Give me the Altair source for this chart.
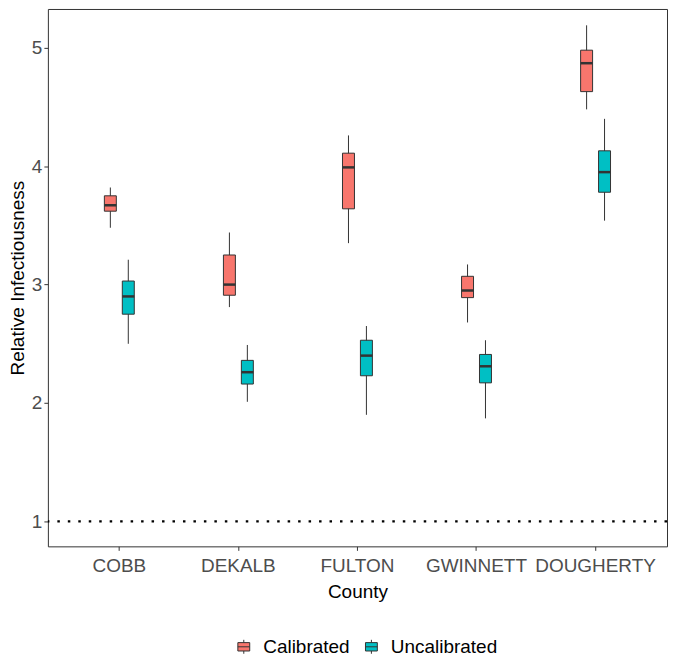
import altair as alt
import pandas as pd

counties = ["COBB", "DEKALB", "FULTON", "GWINNETT", "DOUGHERTY"]
groups = ["Calibrated", "Uncalibrated"]

cal_lower = [3.48, 2.81, 3.35, 2.68, 4.48]
cal_q1 = [3.62, 2.91, 3.64, 2.89, 4.63]
cal_median = [3.67, 3.00, 3.99, 2.95, 4.87]
cal_q3 = [3.75, 3.25, 4.11, 3.07, 4.98]
cal_upper = [3.82, 3.44, 4.26, 3.17, 5.19]

unc_lower = [2.50, 2.01, 1.90, 1.87, 3.54]
unc_q1 = [2.75, 2.16, 2.23, 2.17, 3.78]
unc_median = [2.90, 2.26, 2.40, 2.31, 3.95]
unc_q3 = [3.03, 2.36, 2.53, 2.41, 4.13]
unc_upper = [3.21, 2.49, 2.65, 2.53, 4.40]

ref_value = [1]
y_ticks = [1, 2, 3, 4, 5]

rows = []
for i, c in enumerate(counties):
    rows.append(dict(county=c, group="Calibrated", lower=cal_lower[i], q1=cal_q1[i],
                     median=cal_median[i], q3=cal_q3[i], upper=cal_upper[i]))
    rows.append(dict(county=c, group="Uncalibrated", lower=unc_lower[i], q1=unc_q1[i],
                     median=unc_median[i], q3=unc_q3[i], upper=unc_upper[i]))
df = pd.DataFrame(rows)

FONT = "Liberation Sans"
DARK = "#333333"

W = 621
step = W / 5.2
half = step / 2

x_enc = alt.X("county:N", sort=counties, title="County",
              scale=alt.Scale(paddingInner=0, paddingOuter=0.1),
              axis=alt.Axis(labelAngle=0, labelPadding=6, titlePadding=7))
xo_enc = alt.XOffset("group:N", sort=groups,
                     scale=alt.Scale(paddingInner=0, paddingOuter=0,
                                     range=[half - 18, half + 18]))
y_scale = alt.Scale(domain=[0.789, 5.328], nice=False, zero=False)

base = alt.Chart(df)

whiskers = base.mark_rule(color=DARK, strokeWidth=1).encode(
    x=x_enc, xOffset=xo_enc,
    y=alt.Y("lower:Q", scale=y_scale, title="Relative Infectiousness",
            axis=alt.Axis(values=y_ticks, format="d", titlePadding=4)),
    y2="upper:Q",
)

box_path = "M-0.85,-0.6H0.85V0.6H-0.85Z M-0.85,0H0.85 M0,-0.6V-1 M0,0.6V1"

boxes = base.mark_bar(size=12, stroke=DARK, strokeWidth=1).encode(
    x=x_enc, xOffset=xo_enc,
    y=alt.Y("q1:Q", scale=y_scale),
    y2="q3:Q",
    color=alt.Color("group:N", sort=groups,
                    scale=alt.Scale(domain=groups, range=["#F8766D", "#00BFC4"]),
                    legend=alt.Legend(title=None, orient="none", direction="horizontal",
                                      legendX=187, legendY=630,
                                      symbolType=box_path, symbolSize=196,
                                      symbolStrokeColor=DARK, symbolStrokeWidth=1,
                                      labelFont=FONT, labelFontSize=19, labelColor="black",
                                      labelOffset=10, columnPadding=12, padding=0)),
)

medians = base.mark_tick(size=12, thickness=2.5, color=DARK, opacity=1).encode(
    x=x_enc, xOffset=xo_enc,
    y=alt.Y("median:Q", scale=y_scale),
)

ref = alt.Chart(pd.DataFrame({"v": ref_value})).mark_rule(
    color="black", strokeWidth=2.5, strokeDash=[2.5, 8]
).encode(y=alt.Y("v:Q", scale=y_scale))

chart = alt.layer(whiskers, boxes, medians, ref).properties(
    width=W, height=539,
    padding={"left": 0, "top": 0, "right": 1, "bottom": 0},
).configure_view(
    stroke=DARK, strokeWidth=1
).configure_axis(
    grid=False, domain=False, tickColor=DARK, tickSize=4, tickWidth=1,
    labelFont=FONT, labelFontSize=19, labelColor="#4D4D4D", labelPadding=2,
    titleFont=FONT, titleFontSize=19, titleColor="black", titleFontWeight="normal",
    titlePadding=6,
)

chart.save("out.html", embed_options={"renderer": "svg", "actions": False})
